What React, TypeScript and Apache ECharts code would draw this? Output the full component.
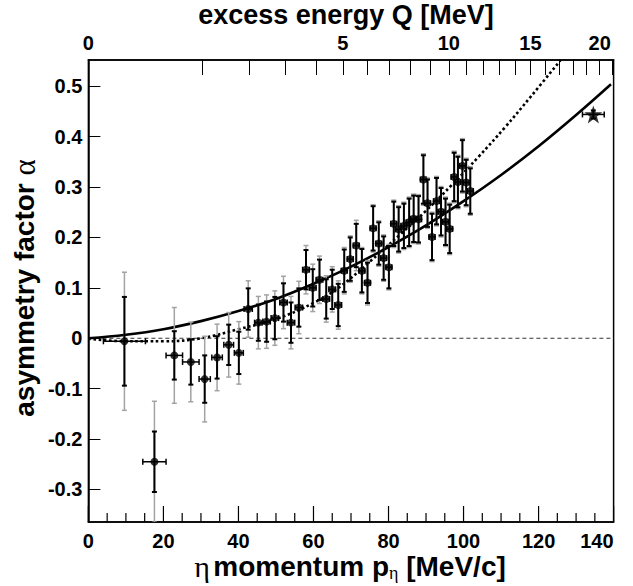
import React, { useEffect, useRef } from "react";
import * as echarts from "echarts";

// ---- data ----
const pEta = [9.6, 17.6, 22.9, 27.3, 31.0, 34.3, 37.4, 40.1, 42.6, 45.3, 47.5, 49.7, 52.0, 54.0, 56.1, 58.0, 59.8, 61.6, 63.4, 65.0, 66.6, 68.2, 69.8, 71.4, 72.9, 74.4, 75.9, 77.4, 78.7, 80.1, 81.4, 82.7, 84.1, 85.5, 86.7, 88.0, 89.3, 90.4, 91.6, 92.8, 94.0, 95.2, 96.3, 97.5, 98.5, 99.7, 100.7, 101.8];
const alpha = [-0.006, -0.245, -0.034, -0.047, -0.081, -0.038, -0.013, -0.029, 0.058, 0.031, 0.033, 0.040, 0.071, 0.031, 0.061, 0.136, 0.100, 0.116, 0.078, 0.097, 0.066, 0.134, 0.157, 0.184, 0.134, 0.110, 0.218, 0.188, 0.159, 0.141, 0.227, 0.216, 0.223, 0.230, 0.237, 0.236, 0.315, 0.268, 0.201, 0.272, 0.251, 0.231, 0.217, 0.320, 0.310, 0.342, 0.309, 0.292];
const statErr = [0.088, 0.060, 0.048, 0.045, 0.047, 0.042, 0.040, 0.042, 0.041, 0.036, 0.040, 0.042, 0.038, 0.040, 0.038, 0.039, 0.037, 0.040, 0.039, 0.039, 0.042, 0.042, 0.043, 0.043, 0.043, 0.040, 0.044, 0.042, 0.043, 0.042, 0.044, 0.044, 0.044, 0.047, 0.046, 0.046, 0.048, 0.047, 0.046, 0.046, 0.047, 0.046, 0.048, 0.048, 0.050, 0.051, 0.045, 0.045];
const totErr = [0.137, 0.120, 0.095, 0.079, 0.085, 0.066, 0.064, 0.062, 0.056, 0.052, 0.053, 0.054, 0.052, 0.052, 0.052, 0.048, 0.047, 0.047, 0.046, 0.045, 0.048, 0.046, 0.046, 0.050, 0.046, 0.044, 0.047, 0.045, 0.046, 0.045, 0.047, 0.047, 0.047, 0.050, 0.049, 0.049, 0.051, 0.050, 0.049, 0.049, 0.050, 0.049, 0.051, 0.051, 0.053, 0.054, 0.048, 0.048];
const pErr = [5.6, 3.1, 2.2, 2.2, 1.5, 1.4, 1.3, 1.2, 1.1, 1.0, 1.0, 1.0, 1.0, 1.0, 1.0, 0.9, 0.9, 0.9, 0.9, 0.9, 0.9, 0.8, 0.8, 0.8, 0.8, 0.8, 0.8, 0.8, 0.8, 0.8, 0.8, 0.8, 0.8, 0.8, 0.8, 0.8, 0.8, 0.8, 0.8, 0.8, 0.8, 0.8, 0.8, 0.8, 0.8, 0.8, 0.8, 0.8];

const starP = [134.6];
const starAlpha = [0.444];
const starStat = [0.008];
const starPErr = [2.9];

const solidP = [0, 10, 20, 30, 40, 50, 60, 70, 80, 90, 100, 110, 120, 130, 139.3];
const solidA = [0, 0.007, 0.018, 0.034, 0.054, 0.078, 0.108, 0.142, 0.181, 0.224, 0.272, 0.324, 0.381, 0.443, 0.504];

const dottedP = [0, 10, 20, 30, 40, 50, 60, 67, 75, 83, 90, 97, 104, 111, 118, 125.9];
const dottedA = [-0.001, -0.006, -0.006, 0.0, 0.018, 0.038, 0.07, 0.102, 0.152, 0.205, 0.253, 0.305, 0.36, 0.418, 0.48, 0.552];

const xTickValues = [0, 20, 40, 60, 80, 100, 120, 140];
const xMinorTickValues = [5, 10, 15, 25, 30, 35, 45, 50, 55, 65, 70, 75, 85, 90, 95, 105, 110, 115, 125, 130, 135];
const yTickValues = [-0.3, -0.2, -0.1, 0, 0.1, 0.2, 0.3, 0.4, 0.5];
const topTickQ = [1, 2, 3, 4, 5, 6, 7, 8, 9, 10, 11, 12, 13, 14, 15, 16, 17, 18, 19, 20, 21];
const topLabelQ = [0, 5, 10, 15, 20];

const Y_MIN = -0.3645;
const Y_MAX = 0.552;

// kinematics for the top (excess energy) axis
const M_ETA = 547.86;
const M_HE = 2808.39;
function pOfQ(Q: number) {
  const s = (M_ETA + M_HE + Q) ** 2;
  const a = s - (M_ETA + M_HE) ** 2;
  const b = s - (M_HE - M_ETA) ** 2;
  return Math.sqrt(a * b) / (2 * Math.sqrt(s));
}
function qOfP(p: number) {
  return Math.sqrt(M_ETA ** 2 + p ** 2) + Math.sqrt(M_HE ** 2 + p ** 2) - M_ETA - M_HE;
}

const FONT = "'Liberation Sans', Arial, Helvetica, sans-serif";
const SERIF = "'Liberation Serif', 'Times New Roman', serif";

function errorBarRenderer(params: any, api: any) {
  const x = api.value(0);
  const y = api.value(1);
  const se = api.value(2);
  const te = api.value(3);
  const xe = api.value(4);
  const c = api.coord([x, y]);
  const cx = c[0];
  const cy = c[1];
  const tt = api.coord([x, y + te])[1];
  const tb = api.coord([x, y - te])[1];
  const st = api.coord([x, y + se])[1];
  const sb = api.coord([x, y - se])[1];
  const xl = api.coord([x - xe, y])[0];
  const xr = api.coord([x + xe, y])[0];
  const grey = { stroke: "#a3a3a3", lineWidth: 1.5 };
  const blk = { stroke: "#000", lineWidth: 2 };
  const cw = 2.5;
  const children: any[] = [];
  if (te > 0) {
    children.push({ type: "line", shape: { x1: cx, y1: tt, x2: cx, y2: tb }, style: grey });
    children.push({ type: "line", shape: { x1: cx - cw, y1: tt, x2: cx + cw, y2: tt }, style: grey });
    children.push({ type: "line", shape: { x1: cx - cw, y1: tb, x2: cx + cw, y2: tb }, style: grey });
  }
  children.push({ type: "line", shape: { x1: cx, y1: st, x2: cx, y2: sb }, style: blk });
  children.push({ type: "line", shape: { x1: cx - cw, y1: st, x2: cx + cw, y2: st }, style: blk });
  children.push({ type: "line", shape: { x1: cx - cw, y1: sb, x2: cx + cw, y2: sb }, style: blk });
  children.push({ type: "line", shape: { x1: xl, y1: cy, x2: xr, y2: cy }, style: { stroke: "#000", lineWidth: 1.5 } });
  children.push({ type: "line", shape: { x1: xl, y1: cy - 3, x2: xl, y2: cy + 3 }, style: { stroke: "#000", lineWidth: 1.5 } });
  children.push({ type: "line", shape: { x1: xr, y1: cy - 3, x2: xr, y2: cy + 3 }, style: { stroke: "#000", lineWidth: 1.5 } });
  return { type: "group", children };
}

const STAR = "path://M0,-10L2.35,-3.09L9.51,-3.09L3.8,1.18L5.88,8.09L0,3.82L-5.88,8.09L-3.8,1.18L-9.51,-3.09L-2.35,-3.09Z";

export default function App() {
  const ref = useRef<HTMLDivElement>(null);
  useEffect(() => {
    if (!ref.current) return;
    const chart = echarts.init(ref.current, undefined, { renderer: "svg" });
    const pts = pEta.map((p, i) => [p, alpha[i], statErr[i], totErr[i], pErr[i]]);
    const starPts = starP.map((p, i) => [p, starAlpha[i], starStat[i], 0, starPErr[i]]);
    const labelStyle = { color: "#000", fontFamily: FONT, fontWeight: "bold" as const, fontSize: 20 };
    const axisLine = { show: true, onZero: false, lineStyle: { color: "#000", width: 1.5 } };
    chart.setOption({
      animation: false,
      backgroundColor: "#fff",
      grid: { left: 88.4, right: 19.4, top: 60, bottom: 64, show: true, borderColor: "#000", borderWidth: 1.5, backgroundColor: "transparent" },
      xAxis: [
        {
          type: "value", min: 0, max: 140, position: "bottom",
          axisLine,
          axisTick: { show: false },
          splitLine: { show: false },
          axisLabel: { ...labelStyle, margin: 9, customValues: xTickValues, alignMaxLabel: "right" },
        },
        {
          type: "value", min: 0, max: 140, position: "top",
          axisLine,
          axisTick: { show: true, inside: true, length: 15, customValues: topTickQ.map(pOfQ).filter((v) => v < 139.8), lineStyle: { color: "#000", width: 1 } },
          splitLine: { show: false },
          axisLabel: { ...labelStyle, margin: 7, customValues: topLabelQ.map(pOfQ), formatter: (v: number) => String(Math.round(qOfP(v))) },
        },
      ],
      yAxis: [
        {
          type: "value", min: Y_MIN, max: Y_MAX,
          axisLine,
          axisTick: { show: true, inside: true, length: 12, customValues: yTickValues, lineStyle: { color: "#000", width: 1 } },
          splitLine: { show: false },
          axisLabel: { ...labelStyle, margin: 6, customValues: yTickValues, formatter: (v: number) => String(Math.round(v * 10) / 10) },
        },
      ],
      graphic: [
        {
          id: "titleTop", type: "text", x: 346, y: 15,
          style: { text: "excess energy Q [MeV]", fill: "#000", font: `bold 27px ${FONT}`, textAlign: "center", textVerticalAlign: "middle" },
        },
        {
          id: "titleBottom", type: "text", x: 350, y: 566,
          style: {
            text: "{g|η} {b|momentum p}{s|η}{b| [MeV/c]}",
            textAlign: "center", textVerticalAlign: "middle",
            rich: {
              g: { fontFamily: SERIF, fontSize: 30, fill: "#000", lineHeight: 32, verticalAlign: "middle" },
              b: { fontFamily: FONT, fontWeight: "bold", fontSize: 28, fill: "#000", lineHeight: 32, verticalAlign: "middle" },
              s: { fontFamily: SERIF, fontSize: 18, fill: "#000", lineHeight: 14, verticalAlign: "bottom" },
            },
          },
        },
        {
          id: "titleLeft", type: "text", x: 24, y: 288, rotation: Math.PI / 2,
          style: {
            text: "{b|asymmetry factor }{g|α}",
            textAlign: "center", textVerticalAlign: "middle",
            rich: {
              b: { fontFamily: FONT, fontWeight: "bold", fontSize: 28, fill: "#000", lineHeight: 32, verticalAlign: "middle" },
              g: { fontFamily: SERIF, fontSize: 31, fill: "#000", lineHeight: 32, verticalAlign: "middle" },
            },
          },
        },
      ],
      series: [
        {
          type: "line", xAxisIndex: 0, yAxisIndex: 0, data: [[0, 0], [140, 0]], symbol: "none",
          lineStyle: { color: "#333", width: 1, type: [4, 3] }, silent: true, z: 1,
        },
        {
          type: "line", xAxisIndex: 0, yAxisIndex: 0, data: dottedP.map((p, i) => [p, dottedA[i]]), symbol: "none", smooth: 0.4,
          lineStyle: { color: "#000", width: 2.6, type: [2.6, 2.6] }, silent: true, z: 2, clip: true,
        },
        {
          type: "line", xAxisIndex: 0, yAxisIndex: 0, data: solidP.map((p, i) => [p, solidA[i]]), symbol: "none", smooth: 0.4,
          lineStyle: { color: "#000", width: 2.6 }, silent: true, z: 2, clip: true,
        },
        {
          type: "custom", xAxisIndex: 0, yAxisIndex: 0, data: pts, renderItem: errorBarRenderer, clip: true, z: 3,
          encode: { x: 0, y: 1 }, silent: true,
        },
        {
          type: "scatter", xAxisIndex: 0, yAxisIndex: 0, data: pts.map((d) => [d[0], d[1]]), symbol: "circle", symbolSize: 8,
          itemStyle: { color: "#000" }, z: 4, silent: true,
        },
        {
          type: "custom", xAxisIndex: 0, yAxisIndex: 0, data: starPts, renderItem: errorBarRenderer, clip: true, z: 3,
          encode: { x: 0, y: 1 }, silent: true,
        },
        {
          type: "scatter", xAxisIndex: 0, yAxisIndex: 0, data: starPts.map((d) => [d[0], d[1]]), symbol: STAR, symbolSize: 18,
          itemStyle: { color: "#000" }, z: 4, silent: true,
        },
      ],
    });
    // bottom-axis tick marks, positioned through the axis scale
    try {
      const yBottom = chart.convertToPixel({ yAxisIndex: 0 }, Y_MIN) as number;
      const tickEls: any[] = [];
      xTickValues.forEach((v, i) => {
        const x = chart.convertToPixel({ xAxisIndex: 0 }, v) as number;
        tickEls.push({ id: "tMaj" + i, type: "line", silent: true, z: 50, shape: { x1: x, y1: yBottom, x2: x, y2: yBottom - 16 }, style: { stroke: "#000", lineWidth: 1.2 } });
      });
      xMinorTickValues.forEach((v, i) => {
        const x = chart.convertToPixel({ xAxisIndex: 0 }, v) as number;
        tickEls.push({ id: "tMin" + i, type: "line", silent: true, z: 50, shape: { x1: x, y1: yBottom, x2: x, y2: yBottom - 9 }, style: { stroke: "#000", lineWidth: 1.2 } });
      });
      chart.setOption({ graphic: tickEls });
    } catch (e) {
      // keep the chart even if the ticks cannot be added
    }
    return () => chart.dispose();
  }, []);
  return <div ref={ref} style={{ position: "fixed", left: 0, top: 0, width: 633, height: 586, background: "#fff" }} />;
}
